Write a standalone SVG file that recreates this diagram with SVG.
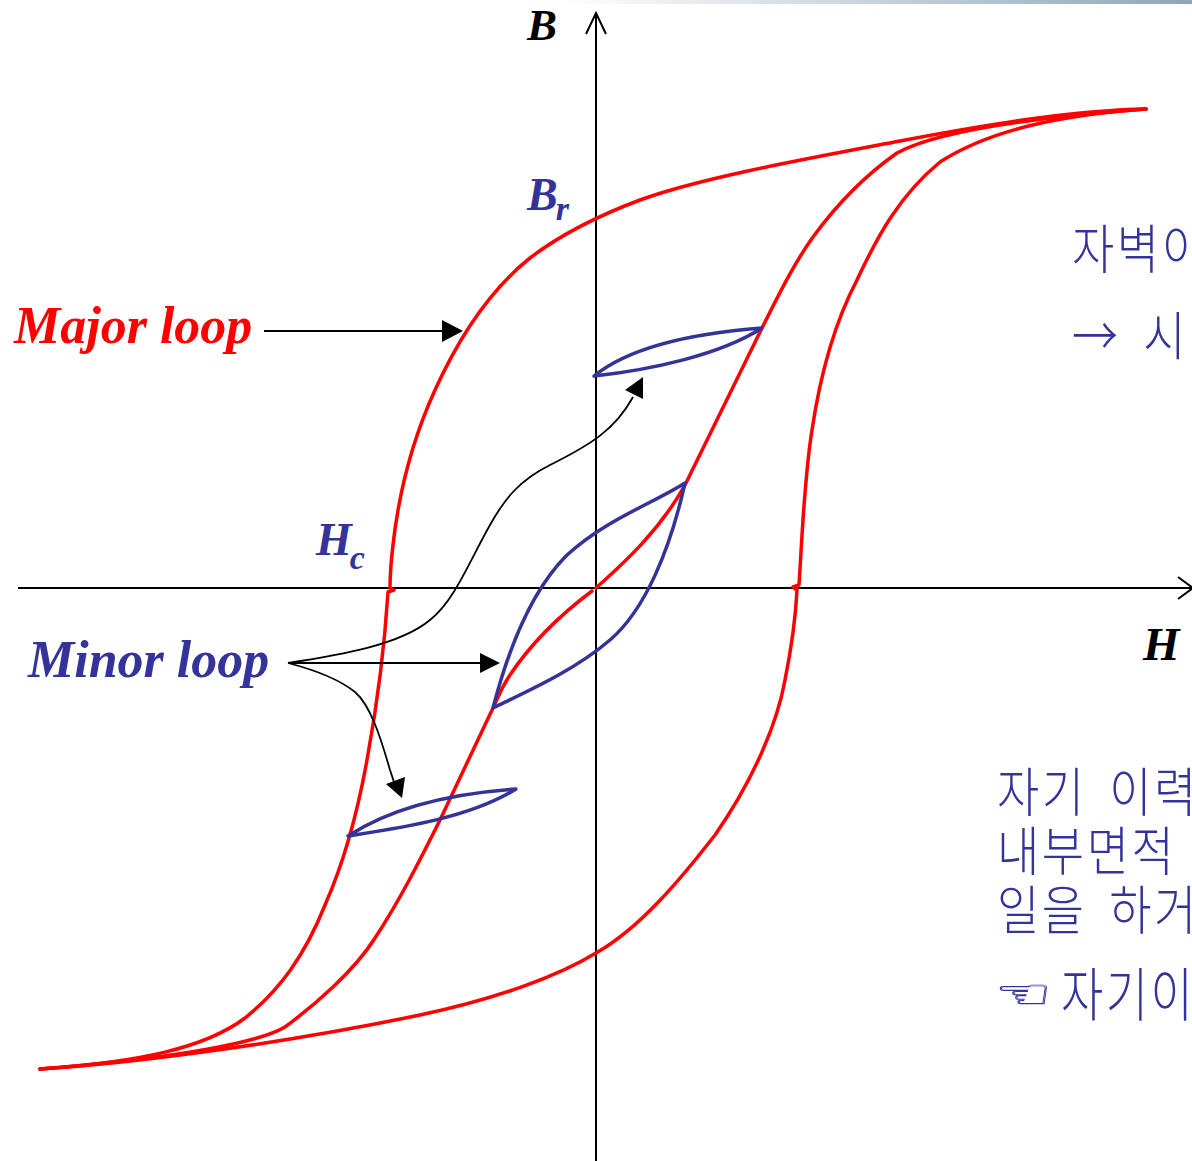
<svg xmlns="http://www.w3.org/2000/svg" width="1192" height="1161" viewBox="0 0 1192 1161">
<defs>
<linearGradient id="topbar" x1="0" y1="0" x2="1" y2="0">
<stop offset="0" stop-color="#ffffff"/>
<stop offset="1" stop-color="#8ea6ba"/>
</linearGradient>
</defs>
<style>
.red{fill:none;stroke:#ff0000;stroke-width:3.5;stroke-linecap:round;stroke-linejoin:round}
.blue{fill:none;stroke:#333399;stroke-width:3.5;stroke-linecap:round;stroke-linejoin:round}
.axis{fill:none;stroke:#000;stroke-width:2}
.ptr{fill:none;stroke:#000;stroke-width:1.8}
.head{fill:#000;stroke:none}
.lbl{font-family:"Liberation Serif","Times New Roman",serif;font-weight:bold;font-style:italic}
.kr{font-family:"Noto Sans CJK KR","Noto Sans",sans-serif;font-weight:300;font-size:46px;fill:#333399;letter-spacing:2.5px;word-spacing:10px}
</style>
<rect x="560" y="0" width="632" height="4" fill="url(#topbar)"/>
<g id="axes">
<line class="axis" x1="18" y1="588" x2="1192" y2="588"/>
<polyline class="axis" points="1178,577 1193,588 1178,599"/>
<line class="axis" x1="596" y1="14" x2="596" y2="1161"/>
<polyline class="axis" points="586,34 596,13 606,34"/>
</g>
<g id="major-loop">
<path class="red" d="M1146,109 C1080,110 1000,122 900,141 C800,160 700,178 640,200 C600,215 560,235 530,258 C490,290 460,335 435,390 C410,445 398,500 393,545 C390,570 390,580 390,588 L394,590 L388,592 C385,640 378,700 367,760 C358,810 345,860 325,905 C305,955 280,990 245,1018 C205,1048 140,1062 40,1069"/>
<path class="red" d="M40,1069 C150,1062 300,1040 420,1015 C500,998 560,975 596,953 C640,928 680,880 715,835 C752,782 777,725 785,680 C793,640 796,610 797,590 L793,587 L799,585 C802,540 804,480 812,430 C821,370 836,320 857,280 C878,235 900,195 940,162 C990,130 1060,115 1146,109"/>
<path class="red" d="M596,588 C625,562 660,530 685,485 L762,328 C780,292 795,262 813,237 C840,200 870,172 897,153 C930,135 1000,120 1146,109"/>
<path class="red" d="M592,591 C560,615 530,645 510,675 C500,690 497,700 493,708 L440,820 C420,860 400,900 375,938 C355,970 315,1005 285,1027 C260,1042 180,1058 40,1069"/>
</g>
<g id="minor-loop-1">
<path class="blue" d="M594,376 C620,355 670,335 762,328 C720,355 650,370 594,376 Z"/>
</g>
<g id="minor-loop-2">
<path class="blue" d="M493,708 C508,650 532,590 567,555 C605,520 650,505 685,483 C670,550 645,610 610,640 C575,670 530,690 493,708 Z"/>
</g>
<g id="minor-loop-3">
<path class="blue" d="M348,836 C380,815 430,795 516,789 C470,818 400,828 348,836 Z"/>
</g>
<g id="label-B"><text class="lbl" x="527" y="40" font-size="45" fill="#000">B</text></g>
<g id="label-H"><text class="lbl" x="1143" y="660" font-size="47" fill="#000">H</text></g>
<g id="label-Br"><text class="lbl" x="527" y="210" font-size="46" fill="#333399">B<tspan font-size="34" dx="-2" dy="10">r</tspan></text></g>
<g id="label-Hc"><text class="lbl" x="316" y="555" font-size="46" fill="#333399">H<tspan font-size="34" dx="-2" dy="14">c</tspan></text></g>
<g id="label-major"><text class="lbl" x="14" y="343" font-size="52" fill="#ff0000">Major loop</text></g>
<g id="label-minor"><text class="lbl" x="28" y="677" font-size="52" fill="#333399">Minor loop</text></g>
<g id="connectors">
<line class="ptr" x1="264" y1="331" x2="444" y2="331"/>
<polygon class="head" points="442,320 463,331 442,342"/>
<line class="ptr" x1="288" y1="663" x2="482" y2="663"/>
<polygon class="head" points="480,653 500,663 480,673"/>
<path class="ptr" d="M288,663 C315,670 340,680 355,692 C370,705 380,735 390,770 L394,782"/>
<polygon class="head" points="386,784 405,777 402,798"/>
<path class="ptr" d="M288,663 C340,655 400,645 430,620 C455,600 470,560 490,525 C505,498 520,480 550,465 C590,445 615,430 633,397"/>
<polygon class="head" points="625,390 643,377 643,399"/>
</g>
<g id="text-top">
<text class="kr" transform="translate(1072,269) scale(1,1.15)" letter-spacing="5">자벽이</text>
<text class="kr" transform="translate(1072,356) scale(1,1.15)" letter-spacing="3">→ 시</text>
</g>
<g id="text-bottom">
<text class="kr" transform="translate(997,812) scale(1,1.15)">자기 이력</text>
<text class="kr" transform="translate(997,871) scale(1,1.15)">내부면적</text>
<text class="kr" transform="translate(997,930) scale(1,1.15)">일을 하거</text>
<text transform="translate(995,1008) scale(1.6,1)" font-family="DejaVu Sans" font-size="40" fill="#ffffff" stroke="#333399" stroke-width="0.6">☜</text>
<text class="kr" transform="translate(1061,1016) scale(1,1.25)" font-size="48px" letter-spacing="1">자기이</text>
</g>
</svg>
